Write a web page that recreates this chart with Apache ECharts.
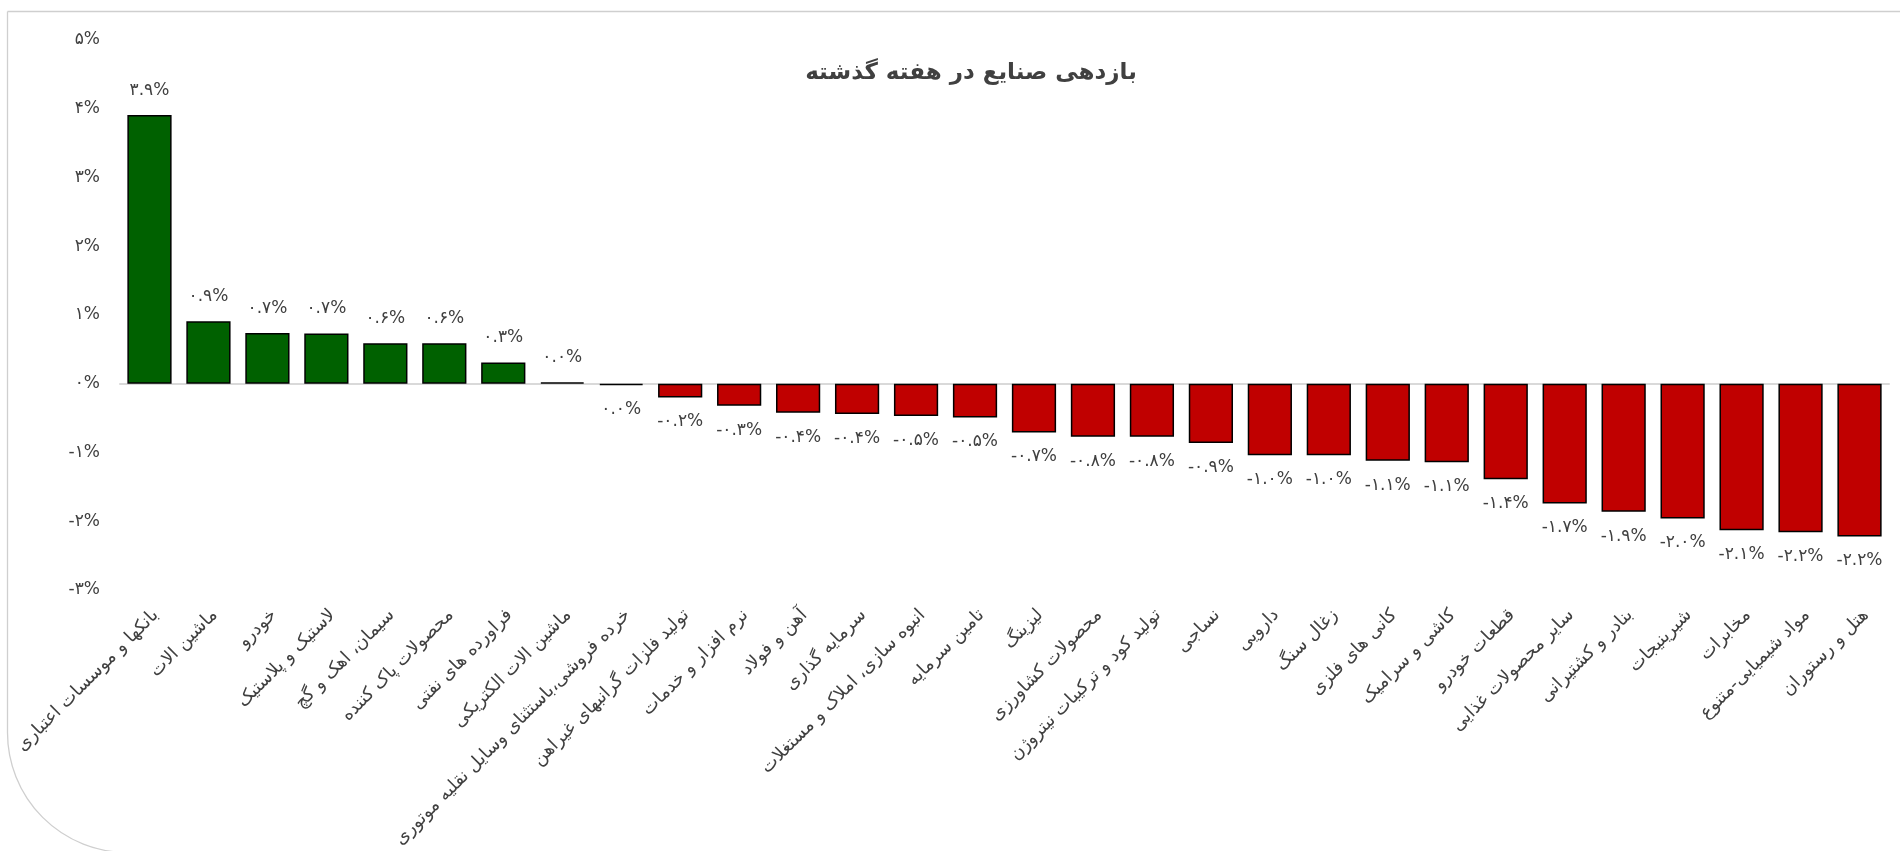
<!DOCTYPE html>
<html>
<head>
<meta charset="utf-8">
<script src="https://cdn.jsdelivr.net/npm/echarts@6/dist/echarts.min.js"></script>
<style>
html,body{margin:0;padding:0;background:#fff;}
#c{width:1900px;height:851px;}
</style>
</head>
<body>
<div id="c"></div>
<script>
const titleText = 'بازدهی صنایع در هفته گذشته';
const categories = [
  'بانکها و موسسات اعتباری',
  'ماشین الات',
  'خودرو',
  'لاستیک و پلاستیک',
  'سیمان، اهک و گچ',
  'محصولات پاک کننده',
  'فراورده های نفتی',
  'ماشین الات الکتریکی',
  'خرده فروشی،باستثنای وسایل نقلیه موتوری',
  'تولید فلزات گرانبهای غیراهن',
  'نرم افزار و خدمات',
  'آهن و فولاد',
  'سرمایه گذاری',
  'انبوه سازی، املاک و مستغلات',
  'تامین سرمایه',
  'لیزینگ',
  'محصولات کشاورزی',
  'تولید کود و ترکیبات نیتروژن',
  'نساجی',
  'دارویی',
  'زغال سنگ',
  'کانی های فلزی',
  'کاشی و سرامیک',
  'قطعات خودرو',
  'سایر محصولات غذایی',
  'بنادر و کشتیرانی',
  'شیرینیجات',
  'مخابرات',
  'مواد شیمیایی-متنوع',
  'هتل و رستوران'
];
const returns = [3.91, 0.91, 0.74, 0.73, 0.59, 0.59, 0.31, 0.02, -0.02, -0.20,
  -0.32, -0.42, -0.44, -0.47, -0.49, -0.71, -0.77, -0.77, -0.86, -1.04,
  -1.04, -1.12, -1.14, -1.39, -1.74, -1.86, -1.96, -2.13, -2.16, -2.22];
const yMin = -3, yMax = 5, yStep = 1;

const faDigits = '۰۱۲۳۴۵۶۷۸۹';
function toFa(s){ return String(s).replace(/[0-9]/g, d => faDigits[+d]); }
function fmtPct(v, dec){
  let s = v.toFixed(dec);
  if (/^-0(\.0+)?$/.test(s)) s = s.slice(1);
  return toFa(s) + '%';
}

const FONT = '"DejaVu Sans", "Noto Sans", sans-serif';
const TXT = '#404040';

const chart = echarts.init(document.getElementById('c'), null, {renderer:'canvas'});
chart.setOption({
  backgroundColor: '#fff',
  animation: false,
  graphic: [{
    type: 'rect',
    shape: {x: 7.5, y: 11.5, width: 1960, height: 841, r: [0, 0, 0, 120]},
    style: {fill: 'none', stroke: '#cfcfcf', lineWidth: 1.3},
    silent: true, z: -10
  }],
  title: {
    text: titleText,
    left: 966, top: 57, textAlign: 'center',
    textStyle: {fontFamily: FONT, fontSize: 23, fontWeight: 'bold', color: TXT}
  },
  grid: {left: 120, right: 11, top: 40, bottom: 261, containLabel: false, outerBoundsMode: 'none'},
  xAxis: [{
    type: 'category', data: categories, position: 'bottom',
    axisLine: {show: false, onZero: false}, axisTick: {show: false},
    axisLabel: {rotate: 45, interval: 0, margin: 16, verticalAlign: 'top',
      fontFamily: FONT, fontSize: 18, color: TXT}
  }, {
    type: 'category', data: categories, position: 'bottom',
    axisLine: {show: true, onZero: true, lineStyle: {color: '#d9d9d9', width: 2}},
    axisTick: {show: false}, axisLabel: {show: false}
  }],
  yAxis: {
    type: 'value', min: yMin, max: yMax, interval: yStep,
    axisLine: {show: false}, axisTick: {show: false}, splitLine: {show: false},
    axisLabel: {margin: 20, fontFamily: FONT, fontSize: 17, color: TXT,
      formatter: v => toFa(v) + '%'}
  },
  series: [{
    type: 'bar', xAxisIndex: 0,
    barCategoryGap: '25%',
    data: returns.map(v => ({
      value: v,
      itemStyle: {color: v >= 0 ? '#006100' : '#c00000'},
      label: {position: v >= 0 ? 'top' : 'bottom'}
    })),
    itemStyle: {borderColor: '#000', borderWidth: 1.5},
    label: {
      show: true, distance: 16, fontFamily: FONT, fontSize: 17, color: TXT,
      formatter: p => fmtPct(p.value, 1)
    }
  }]
});
</script>
</body>
</html>
